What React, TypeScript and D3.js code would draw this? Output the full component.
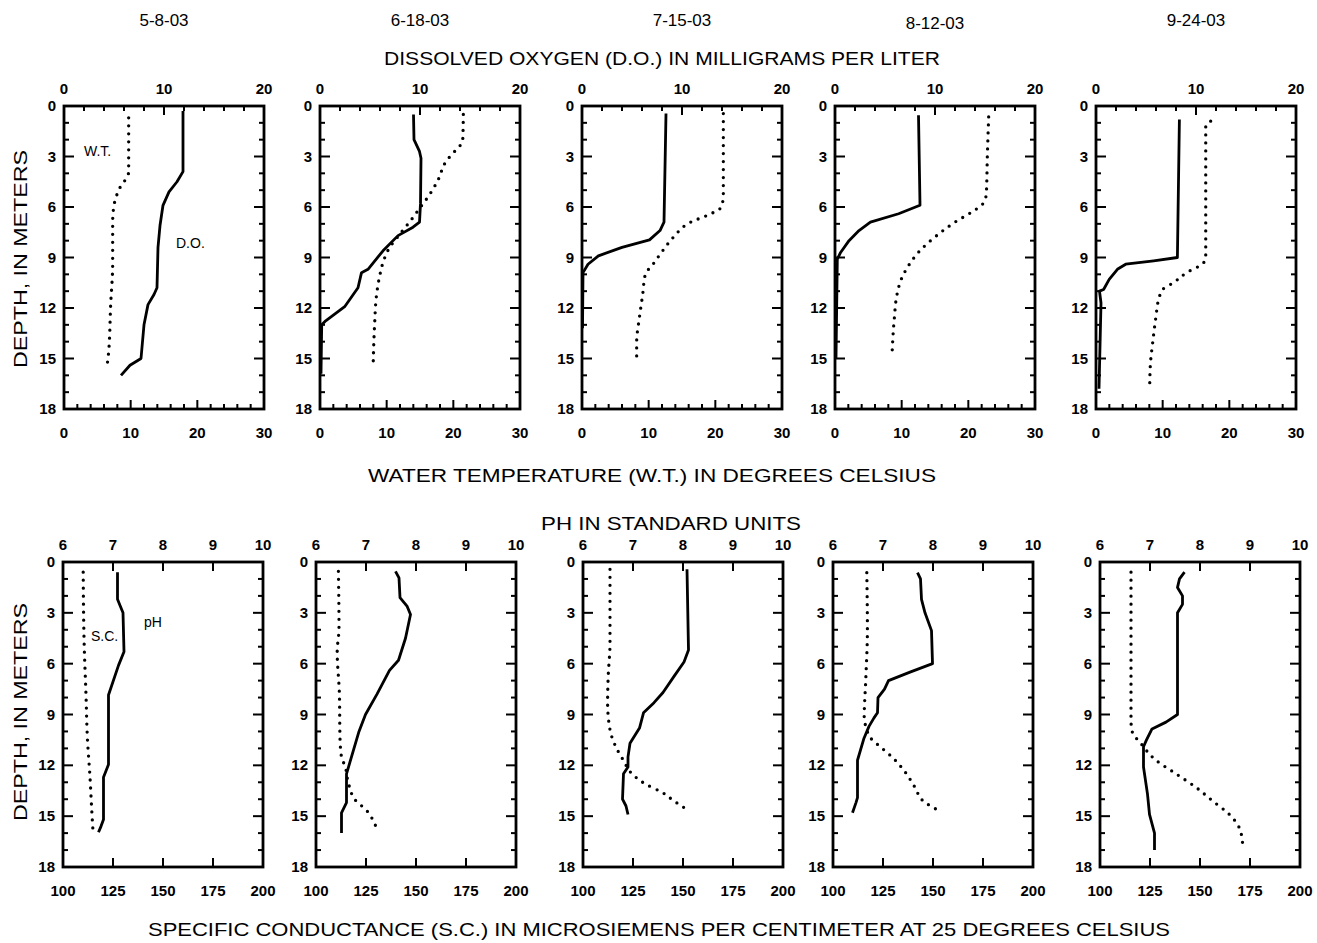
import React, { useEffect, useRef } from 'react';
import * as d3 from 'd3';

// dates of the five profiles
const dates = ['5-8-03', '6-18-03', '7-15-03', '8-12-03', '9-24-03'];

// [depth (m), value] pairs
// dissolved oxygen, mg/L (solid line, top axis)
const do0508 = [[0.3, 11.9], [3.9, 11.9], [4.5, 11.3], [5.1, 10.5], [5.9, 9.9], [7.1, 9.6], [8.4, 9.4], [10.8, 9.3], [11.2, 9.0], [11.8, 8.4], [13.0, 8.0], [15.0, 7.7], [15.4, 6.6], [16.0, 5.7]];
const do0618 = [[0.5, 9.35], [2.0, 9.4], [2.7, 9.95], [3.1, 10.1], [5.8, 10.05], [6.9, 9.95], [7.2, 9.3], [7.7, 7.8], [8.6, 6.3], [9.7, 4.8], [9.9, 4.15], [10.8, 3.8], [11.9, 2.5], [12.8, 0.5], [13.0, 0.17], [15.9, 0.1]];
const do0715 = [[0.45, 8.4], [6.9, 8.2], [7.4, 7.8], [7.95, 6.75], [8.4, 4.0], [8.9, 1.64], [9.4, 0.6], [9.9, 0.1], [13.2, 0.05]];
const do0812 = [[0.55, 8.35], [5.9, 8.5], [6.4, 6.36], [6.9, 3.54], [7.4, 2.4], [8.0, 1.4], [8.7, 0.56], [9.1, 0.23], [15.0, 0.1]];
const do0924 = [[0.8, 8.34], [9.0, 8.14], [9.2, 5.77], [9.4, 2.97], [9.7, 2.14], [10.3, 1.32], [10.9, 0.76], [11.0, 0.35], [11.7, 0.5], [16.8, 0.3]];

// water temperature, deg C (dotted line, bottom axis)
const wt0508 = [[0.7, 9.7], [3.9, 9.7], [5.0, 8.2], [5.9, 7.5], [6.9, 7.3], [9.4, 7.3], [11.8, 7.0], [14.6, 6.7], [15.6, 6.4]];
const wt0618 = [[0.5, 21.5], [2.1, 21.4], [2.6, 20.4], [3.3, 18.9], [4.4, 17.7], [5.4, 16.2], [6.1, 14.9], [6.7, 13.8], [7.6, 12.0], [8.5, 10.3], [9.3, 9.45], [10.1, 8.95], [11.3, 8.46], [12.9, 8.2], [15.6, 7.96]];
const wt0715 = [[0.45, 21.2], [5.3, 21.2], [6.0, 20.9], [6.4, 19.35], [6.9, 16.3], [7.8, 13.7], [8.6, 12.1], [9.4, 10.65], [10.0, 9.5], [11.2, 9.1], [12.6, 8.6], [14.0, 8.2], [15.0, 8.2]];
const wt0812 = [[0.65, 23.05], [3.0, 22.85], [5.2, 22.7], [5.8, 22.2], [6.3, 20.5], [6.9, 18.0], [7.7, 15.25], [8.7, 12.5], [9.5, 11.0], [10.3, 9.93], [11.2, 9.3], [12.6, 8.9], [14.8, 8.55]];
const wt0924 = [[0.9, 17.2], [1.2, 16.46], [9.0, 16.46], [9.35, 16.06], [9.9, 13.6], [10.5, 11.6], [10.9, 10.0], [11.5, 9.4], [12.5, 9.0], [13.9, 8.55], [15.4, 8.15], [16.8, 8.05]];

// pH, standard units (solid line, top axis)
const ph0508 = [[0.6, 7.09], [2.2, 7.09], [3.0, 7.2], [5.3, 7.22], [6.1, 7.11], [7.85, 6.91], [11.95, 6.91], [12.7, 6.81], [15.2, 6.81], [15.6, 6.76], [15.95, 6.71]];
const ph0618 = [[0.55, 7.59], [0.94, 7.66], [2.1, 7.68], [2.6, 7.82], [3.1, 7.89], [4.5, 7.79], [5.8, 7.65], [6.4, 7.47], [7.8, 7.22], [9.0, 6.99], [10.0, 6.86], [12.5, 6.61], [14.2, 6.61], [14.8, 6.51], [16.0, 6.51]];
const ph0715 = [[0.43, 8.08], [5.2, 8.11], [5.9, 8.02], [6.75, 7.82], [7.7, 7.6], [8.3, 7.42], [8.9, 7.21], [9.8, 7.13], [10.7, 6.94], [11.5, 6.9], [12.1, 6.9], [12.5, 6.81], [14.0, 6.79], [14.4, 6.86], [14.9, 6.9]];
const ph0812 = [[0.63, 7.69], [1.0, 7.75], [2.2, 7.77], [3.0, 7.84], [4.05, 7.97], [6.0, 7.99], [6.5, 7.54], [7.0, 7.11], [7.5, 7.03], [8.0, 6.9], [8.9, 6.89], [9.2, 6.82], [9.7, 6.72], [10.4, 6.62], [11.7, 6.49], [13.9, 6.49], [14.2, 6.46], [14.8, 6.39]];
const ph0924 = [[0.6, 7.69], [1.0, 7.59], [1.5, 7.55], [2.0, 7.65], [2.5, 7.65], [3.0, 7.55], [9.0, 7.55], [9.45, 7.32], [9.85, 7.04], [10.5, 6.93], [10.9, 6.87], [12.1, 6.87], [13.7, 6.95], [14.9, 6.99], [16.0, 7.09], [17.0, 7.09]];

// specific conductance, uS/cm (dotted line, bottom axis)
const sc0508 = [[0.6, 110.1], [4.9, 110.6], [7.85, 111.5], [10.4, 112.2], [12.7, 113.5], [14.7, 114.4], [15.7, 114.9]];
const sc0618 = [[0.55, 111.2], [3.9, 111.5], [5.3, 110.6], [7.8, 111.7], [10.4, 112.0], [11.55, 112.8], [12.0, 114.4], [13.1, 116.3], [14.1, 120], [14.6, 124.8], [15.3, 128.8], [15.9, 130.7]];
const sc0715 = [[0.43, 113.5], [4.8, 113.5], [6.75, 112.6], [8.3, 112.3], [9.9, 113.5], [10.9, 116.4], [11.7, 120.2], [12.5, 124.5], [13.1, 131.2], [13.6, 139.6], [14.1, 145.5], [14.5, 150.6]];
const sc0812 = [[0.63, 116.9], [4.0, 117.2], [6.9, 116.4], [9.2, 115.6], [9.7, 116.4], [10.4, 118.9], [11.0, 124.6], [11.6, 130.3], [12.4, 136.1], [13.3, 141.0], [14.1, 145.1], [14.7, 153.3]];
const sc0924 = [[0.6, 115.5], [5.0, 115.5], [9.35, 115.5], [10.1, 116.3], [10.6, 119.7], [11.7, 128], [12.5, 138], [13.3, 148], [14.1, 156.3], [14.9, 164.7], [15.7, 169.7], [16.6, 171.3]];

const doSeries = [do0508, do0618, do0715, do0812, do0924];
const wtSeries = [wt0508, wt0618, wt0715, wt0812, wt0924];
const phSeries = [ph0508, ph0618, ph0715, ph0812, ph0924];
const scSeries = [sc0508, sc0618, sc0715, sc0812, sc0924];

const depthTicks = [0, 3, 6, 9, 12, 15, 18];
const doTicks = [0, 10, 20];
const wtTicks = [0, 10, 20, 30];
const phTicks = [6, 7, 8, 9, 10];
const scTicks = [100, 125, 150, 175, 200];

const W = 1317;
const H = 943;
const FONT = '"Liberation Sans", Arial, Helvetica, sans-serif';

// panel boxes (left edges, width) for each row
const topLefts = [64, 320, 582, 835, 1096];
const botLefts = [63, 316, 583, 833, 1100];
const boxW = 200;
const topRow = { y0: 106, y1: 409 };
const botRow = { y0: 562, y1: 867 };

export default function App() {
  const ref = useRef<SVGSVGElement>(null);

  useEffect(() => {
    const svg = d3.select(ref.current);
    svg.selectAll('*').remove();
    svg.append('rect').attr('width', W).attr('height', H).attr('fill', '#fff');

    const drawPanel = (
      left: number, row: { y0: number; y1: number },
      topDom: number[], topTicks: number[], topMinor: number[],
      botDom: number[], botTicks: number[], botMinor: number[],
      solid: number[][], dotted: number[][]
    ) => {
      const right = left + boxW;
      const y = d3.scaleLinear().domain([0, 18]).range([row.y0, row.y1]);
      const xt = d3.scaleLinear().domain(topDom).range([left, right]);
      const xb = d3.scaleLinear().domain(botDom).range([left, right]);
      const g = svg.append('g');

      // depth ticks, both sides, pointing inward
      d3.range(1, 18).forEach(d => {
        const len = d % 3 === 0 ? 10 : 5;
        g.append('line').attr('x1', left).attr('x2', left + len).attr('y1', y(d)).attr('y2', y(d));
        g.append('line').attr('x1', right).attr('x2', right - len).attr('y1', y(d)).attr('y2', y(d));
      });
      topMinor.forEach(v => {
        const len = topTicks.includes(v) ? 9 : 5;
        g.append('line').attr('x1', xt(v)).attr('x2', xt(v)).attr('y1', row.y0).attr('y2', row.y0 + len);
      });
      botMinor.forEach(v => {
        const len = botTicks.includes(v) ? 9 : 5;
        g.append('line').attr('x1', xb(v)).attr('x2', xb(v)).attr('y1', row.y1).attr('y2', row.y1 - len);
      });
      g.selectAll('line').attr('stroke', '#000').attr('stroke-width', 2);

      g.append('rect')
        .attr('x', left).attr('y', row.y0)
        .attr('width', boxW).attr('height', row.y1 - row.y0)
        .attr('fill', 'none').attr('stroke', '#000').attr('stroke-width', 2.8);

      const lab = (sel: any) => sel
        .attr('font-family', FONT).attr('font-size', 15).attr('font-weight', 'bold').attr('fill', '#000');

      depthTicks.forEach(d => {
        g.append('text').call(lab)
          .attr('x', left - 8).attr('y', y(d) + 5).attr('text-anchor', 'end').text(d);
      });
      topTicks.forEach(v => {
        g.append('text').call(lab)
          .attr('x', xt(v)).attr('y', row.y0 - 12).attr('text-anchor', 'middle').text(v);
      });
      botTicks.forEach(v => {
        g.append('text').call(lab)
          .attr('x', xb(v)).attr('y', row.y1 + 29).attr('text-anchor', 'middle').text(v);
      });

      const solidLine = d3.line<number[]>().x(p => xt(p[1])).y(p => y(p[0]));
      const dotLine = d3.line<number[]>().x(p => xb(p[1])).y(p => y(p[0])).curve(d3.curveMonotoneY);

      g.append('path').attr('d', dotLine(dotted)!)
        .attr('fill', 'none').attr('stroke', '#000').attr('stroke-width', 3.3)
        .attr('stroke-linecap', 'round').attr('stroke-dasharray', '0 8');
      g.append('path').attr('d', solidLine(solid)!)
        .attr('fill', 'none').attr('stroke', '#000').attr('stroke-width', 2.8)
        .attr('stroke-linejoin', 'round');
    };

    dates.forEach((_, i) => {
      drawPanel(topLefts[i], topRow,
        [0, 20], doTicks, d3.range(0, 21, 2),
        [0, 30], wtTicks, d3.range(0, 31, 2),
        doSeries[i], wtSeries[i]);
      drawPanel(botLefts[i], botRow,
        [6, 10], phTicks, [7, 8, 9],
        [100, 200], scTicks, [125, 150, 175],
        phSeries[i], scSeries[i]);
    });

    const title = (x: number, yy: number, t: string, size: number, len?: number) => {
      const s = svg.append('text').attr('x', x).attr('y', yy).attr('text-anchor', 'middle')
        .attr('font-family', FONT).attr('font-size', size).attr('fill', '#000').text(t);
      if (len) s.attr('textLength', len).attr('lengthAdjust', 'spacingAndGlyphs');
      return s;
    };

    dates.forEach((d, i) => title(topLefts[i] + boxW / 2, 26 + (i === 3 ? 3 : 0), d, 17));
    title(662, 65, 'DISSOLVED OXYGEN (D.O.) IN MILLIGRAMS PER LITER', 18, 556);
    title(652, 482, 'WATER TEMPERATURE (W.T.) IN DEGREES CELSIUS', 18, 568);
    title(671, 530, 'PH IN STANDARD UNITS', 18, 260);
    title(659, 936, 'SPECIFIC CONDUCTANCE (S.C.) IN MICROSIEMENS PER CENTIMETER AT 25 DEGREES CELSIUS', 18, 1022);

    [259, 712].forEach(cy => {
      svg.append('text')
        .attr('transform', `translate(27,${cy}) rotate(-90)`)
        .attr('text-anchor', 'middle')
        .attr('font-family', FONT).attr('font-size', 18).attr('fill', '#000')
        .attr('textLength', 218).attr('lengthAdjust', 'spacingAndGlyphs')
        .text('DEPTH, IN METERS');
    });

    // in-panel labels on the first profiles
    const note = (x: number, yy: number, t: string) =>
      svg.append('text').attr('x', x).attr('y', yy)
        .attr('font-family', FONT).attr('font-size', 14).attr('fill', '#000').text(t);
    note(84, 156, 'W.T.');
    note(176, 248, 'D.O.');
    note(91, 641, 'S.C.');
    note(144, 627, 'pH');
  }, []);

  return <svg ref={ref} width={W} height={H} style={{ display: 'block', position: 'fixed', left: 0, top: 0 }} />;
}
